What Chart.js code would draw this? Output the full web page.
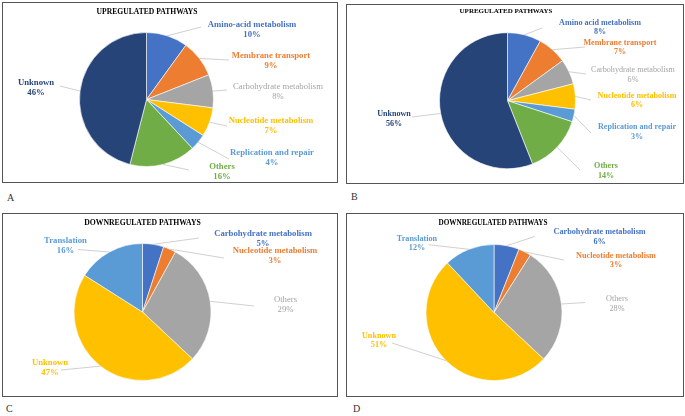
<!DOCTYPE html>
<html>
<head>
<meta charset="utf-8">
<script src="https://cdn.jsdelivr.net/npm/chart.js@4.4.1/dist/chart.umd.min.js"></script>
<style>
  html, body { margin: 0; padding: 0; background: #fff; }
  body { position: relative; width: 685px; height: 416px; overflow: hidden; font-family: "Liberation Serif", "Times New Roman", serif; }
  .panel { position: absolute; box-sizing: border-box; border: 1px solid #555; }
  .layer { position: absolute; left: 0; top: 0; }
  .tag { position: absolute; font-size: 10px; color: #333; line-height: 10px; }
</style>
</head>
<body>
<div class="panel" id="boxA"></div>
<div class="panel" id="boxB"></div>
<div class="panel" id="boxC"></div>
<div class="panel" id="boxD"></div>
<div class="tag" style="left:7px;top:193px">A</div>
<div class="tag" style="left:351px;top:192px">B</div>
<div class="tag" style="left:6px;top:404px">C</div>
<div class="tag" style="left:353px;top:404px">D</div>
<canvas class="layer" id="cA" width="685" height="416"></canvas>
<canvas class="layer" id="cB" width="685" height="416"></canvas>
<canvas class="layer" id="cC" width="685" height="416"></canvas>
<canvas class="layer" id="cD" width="685" height="416"></canvas>
<script>
// ---------- DATA ----------
const upTitle = "UPREGULATED PATHWAYS";
const downTitle = "DOWNREGULATED PATHWAYS";

const upA_categories = ["Amino-acid metabolism", "Membrane transport", "Carbohydrate metabolism", "Nucleotide metabolism", "Replication and repair", "Others", "Unknown"];
const upA_values = [10, 9, 8, 7, 4, 16, 46];

const upB_categories = ["Amino acid metabolism", "Membrane transport", "Carbohydrate metabolism", "Nucleotide metabolism", "Replication and repair", "Others", "Unknown"];
const upB_values = [8, 7, 6, 6, 3, 14, 56];

const downC_categories = ["Carbohydrate metabolism", "Nucleotide metabolism", "Others", "Unknown", "Translation"];
const downC_values = [5, 3, 29, 47, 16];

const downD_categories = ["Carbohydrate metabolism", "Nucleotide metabolism", "Others", "Unknown", "Translation"];
const downD_values = [6, 3, 28, 51, 12];

// ---------- STYLES ----------
const upColors = ["#4472C4", "#ED7D31", "#A5A5A5", "#FFC000", "#5B9BD5", "#70AD47", "#264478"];
const upWeights = ["bold", "bold", "normal", "bold", "bold", "bold", "bold"];
const downColors = ["#4472C4", "#ED7D31", "#A5A5A5", "#FFC000", "#5B9BD5"];
const downWeights = ["bold", "bold", "normal", "bold", "bold"];

// ---------- LAYOUT (page pixels) ----------
const layoutA = {
  box: [2, 2, 336, 181], pie: { cx: 146.5, cy: 99.5, r: 67 },
  title: { x: 147, y: 12, size: 7.6 }, font: 8.7, lh: 10,
  labels: [
    { tx: 252, ty: 25, ex: 201, ey: 27 },
    { tx: 271, ty: 56, ex: 229, ey: 60 },
    { tx: 278, ty: 87, ex: 227, ey: 90 },
    { tx: 271, ty: 121, ex: 227, ey: 126 },
    { tx: 272, ty: 153, ex: 229, ey: 159 },
    { tx: 222, ty: 167, ex: 189, ey: 170 },
    { tx: 36, ty: 83, ex: 60, ey: 86 }
  ]
};
const layoutB = {
  box: [346, 4, 338, 180], pie: { cx: 507.5, cy: 100.7, r: 68 },
  title: { x: 506, y: 11, size: 7.0 }, font: 8.1, lh: 9.6,
  labels: [
    { tx: 600, ty: 22.7, ex: 542, ey: 28 },
    { tx: 620, ty: 42.7, ex: 585, ey: 47 },
    { tx: 633, ty: 70, ex: 586, ey: 74 },
    { tx: 637, ty: 95.8, ex: 591, ey: 100 },
    { tx: 637, ty: 126.9, ex: 591, ey: 133 },
    { tx: 606, ty: 166, ex: 580, ey: 170 },
    { tx: 394, ty: 114, ex: 412, ey: 117 }
  ]
};
const layoutC = {
  box: [2, 213, 336, 184], pie: { cx: 142.5, cy: 312, r: 68.5 },
  title: { x: 142.5, y: 223, size: 7.7 }, font: 8.7, lh: 9.8,
  labels: [
    { tx: 263, ty: 234, ex: 199, ey: 238 },
    { tx: 275, ty: 251, ex: 224, ey: 258 },
    { tx: 285.5, ty: 300, ex: 254, ey: 306 },
    { tx: 50, ty: 363, ex: 61, ey: 370 },
    { tx: 65.5, ty: 240.5, ex: 78, ey: 249.5 }
  ]
};
const layoutD = {
  box: [346, 213, 338, 184], pie: { cx: 494, cy: 312.5, r: 68 },
  title: { x: 493, y: 223, size: 7.2 }, font: 8.2, lh: 9.6,
  labels: [
    { tx: 599.6, ty: 232, ex: 535, ey: 236.4 },
    { tx: 616, ty: 255.7, ex: 564, ey: 260 },
    { tx: 617, ty: 298.8, ex: 585.4, ey: 302.5 },
    { tx: 379, ty: 335.5, ex: 392, ey: 343 },
    { tx: 417, ty: 238.7, ex: 428.5, ey: 244.7 }
  ]
};

// ---------- PLUGIN: title, leader lines and data labels ----------
const pieLabelPlugin = {
  id: 'pieLabels',
  afterDatasetsDraw(chart, args, opts) {
    const L = opts.layout;
    const ctx = chart.ctx;
    const meta = chart.getDatasetMeta(0);
    const ds = chart.data.datasets[0];
    ctx.save();
    ctx.textAlign = 'center';
    ctx.textBaseline = 'middle';
    ctx.fillStyle = '#000';
    ctx.font = 'bold ' + L.title.size + 'px "Liberation Serif"';
    ctx.fillText(opts.title, L.title.x, L.title.y);
    meta.data.forEach((arc, i) => {
      const p = arc.getProps(['x', 'y', 'startAngle', 'endAngle', 'outerRadius'], true);
      const a = (p.startAngle + p.endAngle) / 2;
      const sx = p.x + p.outerRadius * Math.cos(a);
      const sy = p.y + p.outerRadius * Math.sin(a);
      const lb = L.labels[i];
      ctx.strokeStyle = '#C4C4C4';
      ctx.lineWidth = 0.8;
      ctx.beginPath();
      ctx.moveTo(sx, sy);
      ctx.lineTo(lb.ex, lb.ey);
      ctx.stroke();
      ctx.fillStyle = ds.backgroundColor[i];
      ctx.font = opts.weights[i] + ' ' + L.font + 'px "Liberation Serif"';
      ctx.fillText(chart.data.labels[i], lb.tx, lb.ty);
      ctx.fillText(ds.data[i] + '%', lb.tx, lb.ty + L.lh);
    });
    ctx.restore();
  }
};

function placeBox(id, L) {
  const el = document.getElementById(id);
  el.style.left = L.box[0] + 'px';
  el.style.top = L.box[1] + 'px';
  el.style.width = L.box[2] + 'px';
  el.style.height = L.box[3] + 'px';
}

function makePie(canvasId, boxId, categories, values, colors, weights, title, L) {
  placeBox(boxId, L);
  const W = 685, H = 416;
  const s = L.pie.r + 3;
  new Chart(document.getElementById(canvasId), {
    type: 'pie',
    data: {
      labels: categories,
      datasets: [{
        data: values,
        backgroundColor: colors,
        borderColor: '#ffffff',
        borderWidth: 0.6,
        radius: L.pie.r,
        hoverOffset: 0
      }]
    },
    options: {
      responsive: false,
      devicePixelRatio: 1,
      animation: false,
      events: [],
      layout: {
        padding: {
          left: L.pie.cx - s,
          right: W - L.pie.cx - s,
          top: L.pie.cy - s,
          bottom: H - L.pie.cy - s
        }
      },
      plugins: {
        legend: { display: false },
        tooltip: { enabled: false },
        title: { display: false },
        pieLabels: { layout: L, weights: weights, title: title }
      }
    },
    plugins: [pieLabelPlugin]
  });
}

makePie('cA', 'boxA', upA_categories, upA_values, upColors, upWeights, upTitle, layoutA);
makePie('cB', 'boxB', upB_categories, upB_values, upColors, upWeights, upTitle, layoutB);
makePie('cC', 'boxC', downC_categories, downC_values, downColors, downWeights, downTitle, layoutC);
makePie('cD', 'boxD', downD_categories, downD_values, downColors, downWeights, downTitle, layoutD);
</script>
</body>
</html>
